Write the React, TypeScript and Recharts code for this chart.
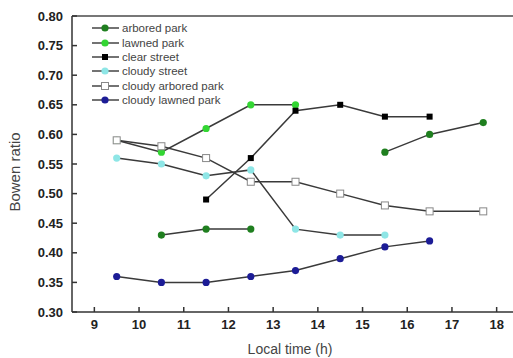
import { Line, LineChart, ReferenceLine, XAxis, YAxis } from "recharts";

// Local time (h) of each observation
const hours = [9.5, 10.5, 11.5, 12.5, 13.5, 14.5, 15.5, 16.5, 17.7];

// Bowen ratio per site, null where not measured
const arboredPark = [null, 0.43, 0.44, 0.44, null, null, 0.57, 0.6, 0.62];
const lawnedPark = [0.59, 0.57, 0.61, 0.65, 0.65, null, null, null, null];
const clearStreet = [null, null, 0.49, 0.56, 0.64, 0.65, 0.63, 0.63, null];
const cloudyStreet = [0.56, 0.55, 0.53, 0.54, 0.44, 0.43, 0.43, null, null];
const cloudyArboredPark = [0.59, 0.58, 0.56, 0.52, 0.52, 0.5, 0.48, 0.47, 0.47];
const cloudyLawnedPark = [0.36, 0.35, 0.35, 0.36, 0.37, 0.39, 0.41, 0.42, null];

const xTicks = [9, 10, 11, 12, 13, 14, 15, 16, 17, 18];
const yTicks = [0.3, 0.35, 0.4, 0.45, 0.5, 0.55, 0.6, 0.65, 0.7, 0.75, 0.8];

type Shape = "circle" | "square" | "hollow";

const series: { key: string; name: string; values: (number | null)[]; color: string; shape: Shape }[] = [
  { key: "arbored", name: "arbored park", values: arboredPark, color: "#1f7f1f", shape: "circle" },
  { key: "lawned", name: "lawned park", values: lawnedPark, color: "#33d633", shape: "circle" },
  { key: "clear", name: "clear street", values: clearStreet, color: "#000000", shape: "square" },
  { key: "cloudyStreet", name: "cloudy street", values: cloudyStreet, color: "#8ee6e6", shape: "circle" },
  { key: "cloudyArbored", name: "cloudy arbored park", values: cloudyArboredPark, color: "#ffffff", shape: "hollow" },
  { key: "cloudyLawned", name: "cloudy lawned park", values: cloudyLawnedPark, color: "#1c1c96", shape: "circle" },
];

const chartData = hours.map((h, i) => {
  const row: Record<string, number | null> = { hour: h };
  series.forEach((s) => {
    row[s.key] = s.values[i];
  });
  return row;
});

function Marker({ x, y, color, shape }: { x: number; y: number; color: string; shape: Shape }) {
  if (shape === "square") {
    return <rect x={x - 3} y={y - 3} width={6} height={6} fill={color} />;
  }
  if (shape === "hollow") {
    return <rect x={x - 3.5} y={y - 3.5} width={7} height={7} fill="#fff" stroke="#888" strokeWidth={1} />;
  }
  return <circle cx={x} cy={y} r={3.6} fill={color} />;
}

const makeDot = (color: string, shape: Shape) => (props: any) => {
  const { cx, cy, index, value } = props;
  if (cx == null || cy == null || value == null) return <g key={index} />;
  return (
    <g key={index}>
      <Marker x={cx} y={cy} color={color} shape={shape} />
    </g>
  );
};

const tickStyle = { fontFamily: "Liberation Sans, Arial, sans-serif", fontSize: 13, fontWeight: 700, fill: "#222" };

export default function App() {
  return (
    <div style={{ position: "fixed", left: 0, top: 0, width: 513, height: 358, overflow: "hidden", background: "#fff" }}>
      <LineChart width={530} height={358} data={chartData} margin={{ top: 16, right: 11, left: 0, bottom: 0 }}>
        <XAxis
          dataKey="hour"
          type="number"
          domain={[8.5, 18.5]}
          ticks={xTicks}
          height={46}
          tickSize={-5}
          tickMargin={13}
          tick={tickStyle}
          stroke="#333"
          strokeWidth={1.5}
          label={() => (
            <text
              x={290}
              y={354}
              textAnchor="middle"
              fontFamily="Liberation Sans, Arial, sans-serif"
              fontSize={14}
              fill="#444"
            >
              Local time (h)
            </text>
          )}
        />
        <YAxis
          type="number"
          domain={[0.3, 0.8]}
          ticks={yTicks}
          width={72}
          tickSize={-5}
          tickMargin={14}
          tick={tickStyle}
          tickFormatter={(v: number) => v.toFixed(2)}
          stroke="#333"
          strokeWidth={1.5}
          label={() => (
            <text
              x={20}
              y={172}
              transform="rotate(-90, 20, 172)"
              textAnchor="middle"
              fontFamily="Liberation Sans, Arial, sans-serif"
              fontSize={15}
              fill="#444"
            >
              Bowen ratio
            </text>
          )}
        />
        <ReferenceLine y={0.8} stroke="#777" strokeWidth={2} />
        {series.map((s) => (
          <Line
            key={s.key}
            dataKey={s.key}
            name={s.name}
            type="linear"
            stroke="#3a3a3a"
            strokeWidth={1.5}
            dot={makeDot(s.color, s.shape)}
            activeDot={false}
            isAnimationActive={false}
          />
        ))}
      </LineChart>
      <div
        style={{
          position: "absolute",
          left: 92,
          top: 21,
          fontFamily: "Liberation Sans, Arial, sans-serif",
          fontSize: 11.5,
          color: "#444",
        }}
      >
        {series.map((s) => (
          <div key={s.key} style={{ display: "flex", alignItems: "center", height: 14.4 }}>
            <svg width={30} height={14} style={{ display: "block" }}>
              <line x1={0} y1={7} x2={27} y2={7} stroke="#444" strokeWidth={1.5} />
              <Marker x={13} y={7} color={s.color} shape={s.shape} />
            </svg>
            <span style={{ whiteSpace: "nowrap" }}>{s.name}</span>
          </div>
        ))}
      </div>
    </div>
  );
}
